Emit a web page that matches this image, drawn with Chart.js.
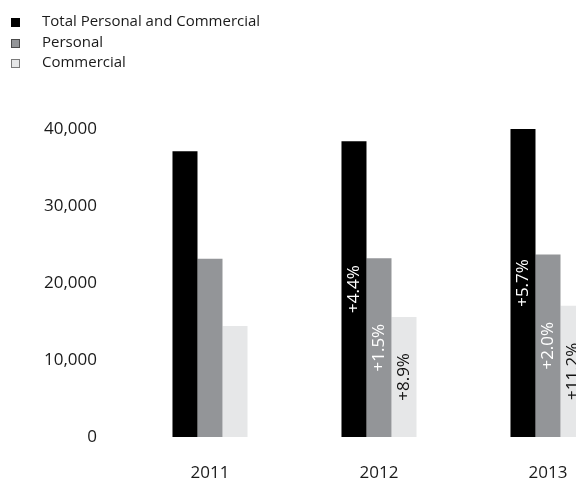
<!DOCTYPE html>
<html>
<head>
<meta charset="utf-8">
<title>Total Personal and Commercial</title>
<script src="https://cdn.jsdelivr.net/npm/chart.js@4.4.1/dist/chart.umd.min.js"></script>
<style>
  html, body { margin: 0; padding: 0; background: #fff; overflow: hidden; }
  #wrap { position: relative; width: 576px; height: 479px; overflow: hidden; }
  #legend { position: absolute; left: 11px; top: 10px; font-family: "Open Sans", sans-serif; font-size: 15px; color: #1a1a1a; }
  #legend div { height: 20.5px; line-height: 20.5px; white-space: nowrap; }
  #legend span { display: inline-block; width: 9px; height: 9px; box-sizing: border-box; margin-right: 22px; vertical-align: -1px; }
  canvas { position: absolute; left: 0; top: 0; }
</style>
</head>
<body>
<div id="wrap">
  <canvas id="volumeChart" width="640" height="479"></canvas>
  <div id="legend"></div>
</div>
<script>
const years = ['2011', '2012', '2013'];
const totalValues = [37100, 38400, 40000];
const personalValues = [23150, 23200, 23700];
const commercialValues = [14400, 15600, 17050];
const totalChange = ['', '+4.4%', '+5.7%'];
const personalChange = ['', '+1.5%', '+2.0%'];
const commercialChange = ['', '+8.9%', '+11.2%'];
const yTicks = [0, 10000, 20000, 30000, 40000];

const datasets = [
  { label: 'Total Personal and Commercial', data: totalValues, changes: totalChange,
    backgroundColor: '#000000', textColor: '#ffffff', legendBorder: '#000000' },
  { label: 'Personal', data: personalValues, changes: personalChange,
    backgroundColor: '#939598', textColor: '#ffffff', legendBorder: '#4a4a4a' },
  { label: 'Commercial', data: commercialValues, changes: commercialChange,
    backgroundColor: '#e6e7e8', textColor: '#111111', legendBorder: '#7a7a7a' }
];

// growth figures written vertically inside each bar
const barLabels = {
  id: 'barLabels',
  afterDatasetsDraw(chart) {
    const ctx = chart.ctx;
    chart.data.datasets.forEach((ds, i) => {
      chart.getDatasetMeta(i).data.forEach((bar, j) => {
        const text = ds.changes[j];
        if (!text) return;
        ctx.save();
        ctx.translate(bar.x, (bar.y + bar.base) / 2);
        ctx.rotate(-Math.PI / 2);
        ctx.font = '17px "Open Sans", sans-serif';
        ctx.fillStyle = ds.textColor;
        ctx.textAlign = 'center';
        ctx.textBaseline = 'middle';
        ctx.fillText(text, 0, 0);
        ctx.restore();
      });
    });
  }
};

const chart = new Chart(document.getElementById('volumeChart'), {
  type: 'bar',
  data: { labels: years, datasets: datasets },
  options: {
    responsive: false,
    animation: false,
    datasets: { bar: { categoryPercentage: 0.444, barPercentage: 1.0 } },
    layout: { padding: { left: 25.5, right: 7.5, top: 129, bottom: 0 } },
    plugins: { legend: { display: false }, tooltip: { enabled: false } },
    scales: {
      x: {
        grid: { display: false, drawTicks: false },
        border: { display: false },
        ticks: { color: '#1a1a1a', padding: 26, font: { family: '"Open Sans", sans-serif', size: 17 } },
        afterFit(scale) { scale.height = 42; }
      },
      y: {
        min: 0,
        max: 40000,
        grid: { display: false, drawTicks: false },
        border: { display: false },
        afterBuildTicks(scale) { scale.ticks = yTicks.map(v => ({ value: v })); },
        ticks: {
          color: '#1a1a1a',
          padding: 28.5,
          font: { family: '"Open Sans", sans-serif', size: 17 },
          callback: v => v.toLocaleString('en-US')
        },
        afterFit(scale) { scale.width = 100; }
      }
    }
  },
  plugins: [barLabels]
});

// legend rows built from the datasets
const legend = document.getElementById('legend');
chart.data.datasets.forEach(ds => {
  const row = document.createElement('div');
  const box = document.createElement('span');
  box.style.background = ds.backgroundColor;
  box.style.border = '1px solid ' + ds.legendBorder;
  row.appendChild(box);
  row.appendChild(document.createTextNode(ds.label));
  legend.appendChild(row);
});
</script>
</body>
</html>
